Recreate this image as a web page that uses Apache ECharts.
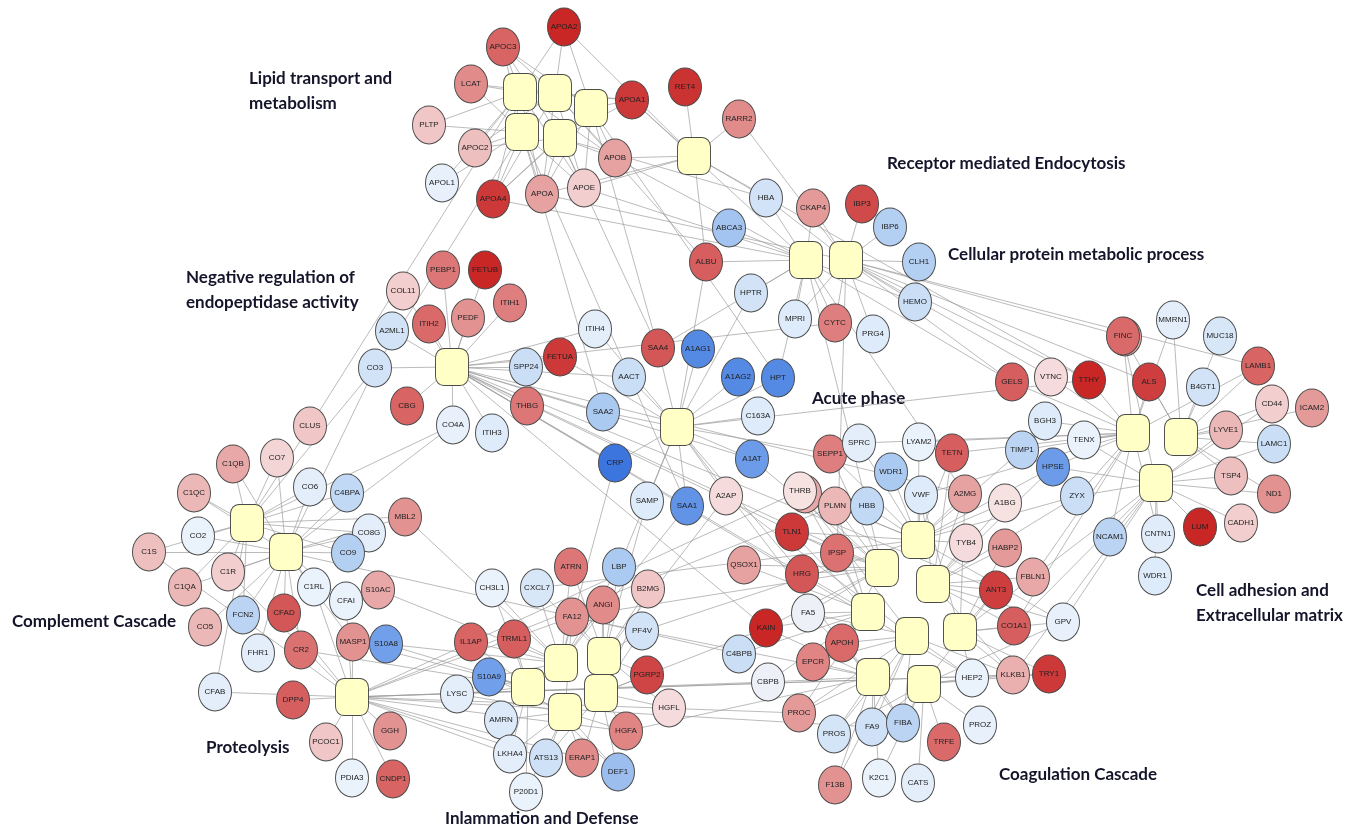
<!DOCTYPE html>
<html><head><meta charset="utf-8">
<script src="https://cdn.jsdelivr.net/npm/echarts@6/dist/echarts.min.js"></script>
<style>html,body{margin:0;padding:0;background:#fff}#c{width:1362px;height:829px}</style>
</head><body><div id="c"></div>
<script>
// ---- node data: [key, x, y, log fold change] ----
const lipidNodes = [
 ['APOA2',564,27,3.0],['APOC3',503,47,2.0],['LCAT',471,84,1.4],['PLTP',429,125,0.6],['APOC2',475,148,0.7],
 ['APOL1',442,183,-0.15],['APOA4',493,199,2.7],['APOA',542,194,1.1],['APOE',584,188,0.5],['APOB',615,158,1.1],
 ['APOA1',632,100,2.7],['RET4',685,87,2.8],['RARR2',739,119,1.4]];
const receptorNodes = [
 ['HBA',766,198,-0.5],['CKAP4',813,208,1.2],['IBP3',862,204,2.4],['IBP6',890,227,-0.9],['ABCA3',729,228,-1.1],
 ['ALBU',706,262,2.1],['CLH1',919,262,-0.9],['HPTR',751,293,-0.5],['MPRI',795,319,-0.3],['CYTC',835,323,1.6],
 ['PRG4',873,334,-0.3],['HEMO',915,302,-0.6]];
const negRegNodes = [
 ['PEBP1',443,270,1.7],['FETUB',485,270,3.0],['COL11',403,291,0.5],['A2ML1',392,331,-0.5],['ITIH2',429,324,1.9],
 ['PEDF',468,318,1.3],['ITIH1',510,303,1.6],['CO3',375,368,-0.5],['CBG',407,406,2.0],['CO4A',453,425,-0.15],
 ['ITIH3',492,433,-0.3],['ITIH4',595,329,-0.2],['SPP24',526,367,-0.6],['FETUA',560,357,2.7],['THBG',527,406,1.7]];
const acuteNodes = [
 ['SAA4',658,348,2.2],['A1AG1',698,349,-2.4],['AACT',629,377,-0.6],['A1AG2',738,377,-2.4],['HPT',778,378,-2.4],
 ['SAA2',603,412,-1.0],['C163A',758,416,-0.3],['CRP',615,463,-3.0],['A1AT',752,459,-1.9],['SAMP',647,501,-0.3],
 ['SAA1',687,506,-2.1],['A2AP',726,496,0.3]];
const complementNodes = [
 ['CLUS',310,426,0.6],['CO7',277,458,0.4],['C1QB',233,464,1.0],['C1QC',194,493,0.8],['CO6',310,487,-0.2],
 ['C4BPA',347,493,-0.7],['MBL2',405,517,1.3],['CO8G',369,533,-0.2],['CO2',198,536,-0.1],['C1S',149,552,0.7],
 ['CO9',348,553,-0.9],['C1R',228,572,0.5],['C1QA',185,587,0.8],['C1RL',314,587,-0.1],['CFAI',346,601,-0.1],
 ['S10AC',378,590,1.0],['FCN2',243,615,-0.8],['CFAD',284,613,2.2],['CO5',205,627,0.8],['FHR1',258,653,-0.2],
 ['CR2',301,650,1.8],['MASP1',353,642,1.3],['S10A8',386,644,-1.8]];
const proteolysisNodes = [
 ['CFAB',215,692,-0.2],['DPP4',293,700,2.1],['GGH',390,731,1.3],['PCOC1',326,742,0.6],['PDIA3',352,778,-0.1],
 ['CNDP1',393,779,2.0]];
const inflammationNodes = [
 ['ATRN',571,567,1.7],['LBP',619,567,-1.0],['CH3L1',492,588,-0.1],['CXCL7',537,588,-0.4],['B2MG',648,589,0.6],
 ['ANGI',603,605,1.4],['FA12',572,617,1.3],['PF4V',642,631,-0.5],['IL1AP',471,642,2.0],['TRML1',514,639,2.1],
 ['S10A9',489,677,-1.8],['LYSC',457,694,-0.2],['PGRP2',647,675,2.5],['HGFL',669,708,0.3],['AMRN',501,720,-0.35],
 ['HGFA',626,731,1.5],['LKHA4',510,754,-0.2],['ATS13',546,758,-0.55],['ERAP1',582,758,1.4],['DEF1',618,772,-1.2],
 ['P20D1',526,792,-0.1]];
const coagulationNodes = [
 ['SEPP1',830,454,1.6],['SPRC',859,443,-0.2],['THRB2',805,494,1.0],['THRB',800,491,0.2],['PLMN',835,506,0.8],
 ['HBB',867,506,-0.7],['TLN1',792,532,2.7],['IPSP',837,553,1.8],['QSOX1',744,565,1.1],['HRG',802,574,2.2],
 ['FA5',808,613,-0.05],['KAIN',766,628,3.0],['C4BPB',739,654,-0.6],['CBPB',768,682,-0.05],['EPCR',813,662,1.5],
 ['APOH',842,643,1.9],['PROC',799,713,1.2],['PROS',834,734,-0.45],['FA9',872,727,-0.55],['F13B',835,785,1.3],
 ['K2C1',879,778,-0.1],['FIBA',903,723,-0.8],['CATS',918,783,-0.2],['TRFE',944,742,1.9],['PROZ',980,725,-0.15],
 ['HEP2',972,678,-0.1],['KLKB1',1013,675,0.9],['TRY1',1049,674,2.7],['GPV',1063,622,-0.15],['CO1A1',1014,626,2.1],
 ['ANT3',996,590,2.6],['FBLN1',1033,577,1.0],['HABP2',1005,548,1.2],['TYB4',966,543,0.3],['A1BG',1005,503,0.2],
 ['A2MG',965,494,1.1],['VWF',921,495,-0.3],['WDR1',891,472,-1.0],['LYAM2',919,442,-0.1],['TETN',952,453,2.1]];
const adhesionNodes = [
 ['BGH3',1045,421,-0.3],['TIMP1',1022,450,-0.8],['HPSE',1053,467,-1.9],['ZYX',1077,496,-0.6],['TENX',1084,440,-0.1],
 ['FINC2',1125,337,1.0],['FINC',1123,336,1.9],['MMRN1',1173,320,-0.2],['MUC18',1220,336,-0.4],['LAMB1',1258,366,2.0],
 ['GELS',1012,382,2.1],['VTNC',1051,377,0.3],['TTHY',1089,380,3.0],['ALS',1149,382,2.6],['B4GT1',1203,387,-0.5],
 ['CD44',1272,404,0.5],['ICAM2',1312,408,1.2],['LYVE1',1226,430,0.8],['LAMC1',1274,444,-0.6],['TSP4',1231,476,0.7],
 ['ND1',1274,494,1.3],['CADH1',1241,523,0.5],['LUM',1200,527,3.0],['CNTN1',1158,534,-0.25],['NCAM1',1110,537,-0.8],
 ['WDR1b',1155,576,-0.3]];
const displayNames = {WDR1b:'WDR1', THRB2:'', FINC2:''};

// ---- process (hub) nodes: [key, x, y] ----
const hubs = [
 ['L1',520,92],['L2',555,93],['L3',591,108],['L4',522,132],['L5',560,138],['L6',694,156],
 ['R1',806,260],['R2',846,260],['N1',452,367],['A1',677,427],['C1',247,523],['C2',286,552],['P1',352,697],
 ['I1',561,663],['I2',604,656],['I3',528,687],['I4',601,693],['I5',565,712],
 ['G1',918,540],['G2',882,568],['G3',933,584],['G4',868,612],['G5',912,636],['G6',960,632],['G7',873,677],['G8',924,684],
 ['E1',1133,433],['E2',1181,437],['E3',1156,483]];

// ---- hub memberships ----
const lipidLinks = [
 ['L1','APOC3 APOA2 LCAT PLTP APOC2 APOA4 APOA APOE APOB APOA1 APOL1 CLUS'],
 ['L2','APOA2 APOC3 APOA1 APOB APOE APOA APOA4 APOC2 LCAT ALBU'],
 ['L3','APOA1 APOA2 APOB APOE APOC3 APOA4 APOA SAA4 HPT'],
 ['L4','LCAT APOC2 PLTP APOA4 APOA APOE APOL1 APOC3 SAA1 SAA2 CO3'],
 ['L5','APOA APOE APOB APOA4 APOA1 APOC2 APOC3 SAA4 HBA'],
 ['L6','RET4 RARR2 APOA1 APOA2 APOB APOE APOA TTHY ALBU HBA']];
const receptorLinks = [
 ['R1','HBA CKAP4 ABCA3 ALBU HPTR MPRI CYTC APOB APOE APOA1 HPT HBB A2MG HEMO APOA4 SAA4 GELS'],
 ['R2','CKAP4 IBP3 IBP6 CLH1 HEMO PRG4 CYTC MPRI ALS FINC TTHY GELS VTNC HBA RARR2 LAMB1 IPSP APOA']];
const negRegLinks = [
 ['N1','PEBP1 FETUB COL11 A2ML1 ITIH2 PEDF ITIH1 CO3 CBG CO4A ITIH3 ITIH4 SPP24 FETUA THBG AACT A1AT A2AP ANT3 A2MG KAIN IPSP HEP2 CYTC HRG SAA2 CRP']];
const acuteLinks = [
 ['A1','SAA4 A1AG1 AACT A1AG2 HPT SAA2 C163A CRP A1AT SAMP SAA1 A2AP FETUA ITIH4 FIBA LBP HPTR HRG TTHY ALBU SEPP1']];
const complementLinks = [
 ['C1','C1QB C1QC CO2 C1S CO7 CO6 C4BPA CLUS CO3 CO4A C1R C1QA MBL2 CO8G CO9 FCN2 CFAB'],
 ['C2','C1R C1RL CFAI CO9 CO8G C1S C1QA CO5 FCN2 CFAD CR2 FHR1 MASP1 CO2 C4BPB MBL2 CO6 CO7 CO3 CO4A C4BPA C1QB C1QC']];
const proteolysisLinks = [
 ['P1','CFAB DPP4 GGH PCOC1 PDIA3 CNDP1 MASP1 C1R C1S CFAD CFAI C1RL LKHA4 ERAP1 ATS13 HGFA FA12 KLKB1 TRY1 PLMN THRB FA9 PROC CBPB']];
const inflammationLinks = [
 ['I1','ATRN CXCL7 CH3L1 TRML1 IL1AP S10A9 FA12 ANGI LBP S10A8 S10AC CRP SAA1 MBL2'],
 ['I2','LBP B2MG ANGI PF4V PGRP2 ATRN FA12 CXCL7 HGFL SAMP A2AP'],
 ['I3','IL1AP TRML1 S10A9 LYSC AMRN LKHA4 CH3L1 S10A8 MASP1 CR2 DEF1 P20D1'],
 ['I4','PGRP2 HGFL HGFA ERAP1 DEF1 B2MG PF4V ANGI ATS13 KAIN'],
 ['I5','AMRN LKHA4 ATS13 ERAP1 HGFA DEF1 P20D1 LYSC S10A9 FA12']];
const coagulationLinks = [
 ['G1','VWF WDR1 LYAM2 TETN A2MG A1BG TYB4 HBB PLMN SPRC SEPP1 TIMP1 HPSE ZYX GPV THRB TLN1 PF4V CXCL7'],
 ['G2','THRB PLMN HBB IPSP TLN1 HRG SEPP1 QSOX1 FA5 KAIN A2AP A1AT FA12 APOH'],
 ['G3','A2MG HABP2 TYB4 ANT3 FBLN1 CO1A1 VWF TETN A1BG ZYX HPSE GPV KLKB1'],
 ['G4','FA5 HRG KAIN APOH EPCR C4BPB CBPB PROC IPSP QSOX1 TLN1 THRB PLMN'],
 ['G5','FIBA FA9 PROS APOH EPCR PROC F13B HEP2 KLKB1 THRB FA5 A2AP'],
 ['G6','CO1A1 ANT3 GPV HEP2 KLKB1 TRY1 HABP2 FBLN1 VWF A2MG'],
 ['G7','PROS FA9 F13B K2C1 PROC EPCR CBPB FA5 FIBA APOH HGFA FA12 KAIN'],
 ['G8','HEP2 PROZ TRFE FIBA CATS K2C1 KLKB1 TRY1 ANT3 FA9 PROS GPV']];
const adhesionLinks = [
 ['E1','FINC MMRN1 GELS VTNC TTHY ALS BGH3 TENX TIMP1 HPSE ZYX NCAM1 CNTN1 LAMB1 SPRC TETN VWF LYAM2 CO1A1 FBLN1'],
 ['E2','MUC18 B4GT1 LAMB1 CD44 ICAM2 LYVE1 LAMC1 TSP4 ALS MMRN1 FINC ND1'],
 ['E3','LYVE1 TSP4 ND1 CADH1 LUM CNTN1 NCAM1 WDR1b ZYX HPSE LAMC1 CD44 FINC TENX CO1A1 GPV FBLN1 KLKB1']];

// ---- process labels ----
const processLabels = [
 ['Lipid transport and\nmetabolism',249,66],
 ['Receptor mediated Endocytosis',887,151],
 ['Cellular protein metabolic process',948,242],
 ['Negative regulation of\nendopeptidase activity',186,265],
 ['Acute phase',812,386],
 ['Complement Cascade',12,609],
 ['Proteolysis',206,735],
 ['Inlammation and Defense',445,806],
 ['Coagulation Cascade',999,762],
 ['Cell adhesion and\nExtracellular matrix',1196,578]];

// ---- colour scale for fold change ----
const colorStops = [[-3,'#3d75de'],[-2.2,'#5b8fe6'],[-1.5,'#82abec'],[-1,'#abcaf1'],[-0.5,'#d2e3f7'],[-0.1,'#eaf2fc'],
 [0.1,'#f8e8e8'],[0.5,'#f2cece'],[1,'#e8a8a8'],[1.5,'#e08484'],[2,'#d86464'],[2.5,'#cf4444'],[3,'#c92626']];
function hex(c){return [parseInt(c.slice(1,3),16),parseInt(c.slice(3,5),16),parseInt(c.slice(5,7),16)];}
function fcColor(v){
  if(v<=colorStops[0][0]) return colorStops[0][1];
  for(let i=1;i<colorStops.length;i++){
    if(v<=colorStops[i][0]){
      const [a,ca]=colorStops[i-1],[b,cb]=colorStops[i];
      const t=(v-a)/(b-a), A=hex(ca), B=hex(cb);
      return 'rgb('+A.map((x,k)=>Math.round(x+(B[k]-x)*t)).join(',')+')';
    }
  }
  return colorStops[colorStops.length-1][1];
}

const geneNodes = [].concat(lipidNodes,receptorNodes,negRegNodes,acuteNodes,complementNodes,proteolysisNodes,
  inflammationNodes,coagulationNodes,adhesionNodes);
const allLinks = [].concat(lipidLinks,receptorLinks,negRegLinks,acuteLinks,complementLinks,proteolysisLinks,
  inflammationLinks,coagulationLinks,adhesionLinks);

const data=[], index={};
geneNodes.forEach(n=>{
  index[n[0]]=data.length;
  const lbl = (n[0] in displayNames)? displayNames[n[0]] : n[0];
  data.push({name:n[0], value:[n[1],n[2]], symbol:'circle', symbolSize:[33,38],
    itemStyle:{color:fcColor(n[3]), borderColor:'#4a4a4a', borderWidth:1},
    label:{show:lbl!=='', formatter:lbl}});
});
hubs.forEach(h=>{
  index[h[0]]=data.length;
  data.push({name:h[0], value:[h[1],h[2]], symbol:'roundRect', symbolSize:[33,37],
    itemStyle:{color:'#ffffc6', borderColor:'#4a4a4a', borderWidth:1}, label:{show:false}});
});
const links=[];
allLinks.forEach(([h,list])=>{
  list.split(/\s+/).forEach(g=>{ if(g in index) links.push({source:index[h], target:index[g]}); });
});

const chart = echarts.init(document.getElementById('c'));
chart.setOption({
  animation:false,
  backgroundColor:'#ffffff',
  grid:{left:0,right:0,top:0,bottom:0},
  xAxis:{type:'value',min:0,max:1362,show:false},
  yAxis:{type:'value',min:0,max:829,inverse:true,show:false},
  graphic: processLabels.map(p=>({type:'text', left:p[1], top:p[2],
    style:{text:p[0], font:'bold 17px Lato', fill:'#14142a', lineHeight:25}})),
  series:[{
    type:'graph', coordinateSystem:'cartesian2d', layout:'none',
    data:data, links:links,
    label:{position:'inside', fontSize:8, fontFamily:'Liberation Sans', color:'#222'},
    lineStyle:{color:'#9a9a9a', width:0.75, opacity:0.9, curveness:0},
    emphasis:{disabled:true}
  }]
});
</script></body></html>
